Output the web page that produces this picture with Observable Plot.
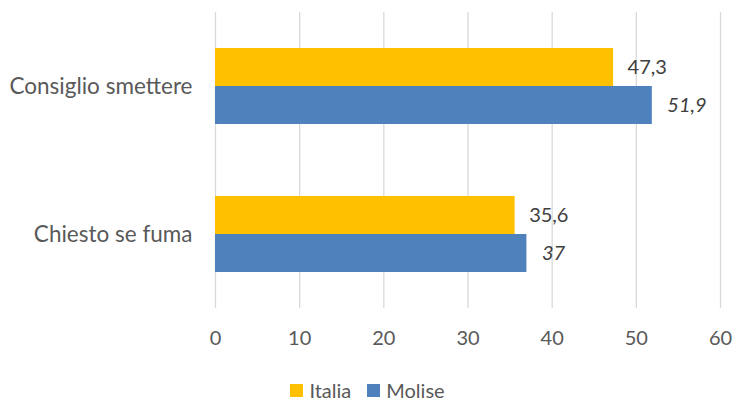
<!DOCTYPE html>
<html><head><meta charset="utf-8">
<script src="https://cdn.jsdelivr.net/npm/d3@7"></script>
<script src="https://cdn.jsdelivr.net/npm/@observablehq/plot@0.6"></script>
<style>
body{margin:0;background:#fff;font-family:Lato,"Open Sans",sans-serif;overflow:hidden;}
#wrap{position:relative;width:735px;height:401px;}
#legend{position:absolute;left:0;top:380px;width:735px;display:flex;justify-content:center;height:21px;line-height:21px;align-items:center;font-size:20px;color:#595959;}
.item{display:flex;align-items:center;margin:0 8px;}
.sw{width:13px;height:13px;margin-right:6px;}
</style></head>
<body><div id="wrap"><div id="chart"></div><div id="legend"></div></div>
<script>
const categories = ["Consiglio smettere", "Chiesto se fuma"];
const series = ["Italia", "Molise"];
const italia = [47.3, 35.6];
const molise = [51.9, 37];
const xTicks = [0, 10, 20, 30, 40, 50, 60];
const colors = ["#FFC000", "#4F81BD"];

const data = [];
categories.forEach((c, i) => {
  data.push({cat: c, s: "Italia", v: italia[i]});
  data.push({cat: c, s: "Molise", v: molise[i]});
});
const fmt = v => String(v).replace(".", ",");

const chart = Plot.plot({
  width: 735, height: 366,
  marginLeft: 215, marginRight: 15, marginTop: 12, marginBottom: 58,
  style: {fontFamily: "Lato, 'Open Sans', sans-serif", fontSize: "20px", color: "#595959", background: "#fff"},
  x: {domain: [0, 60], label: null},
  y: {domain: series, axis: null, paddingInner: 0, paddingOuter: 0.9},
  fy: {domain: categories, padding: 0, label: null, axis: null},
  color: {domain: series, range: colors},
  marks: [
    Plot.gridX(xTicks, {stroke: "#d9d9d9", strokeOpacity: 1, strokeWidth: 1.3}),
    Plot.axisX(xTicks, {tickSize: 0, tickPadding: 22, fontSize: 20, fill: "#595959", tickFormat: d => d, label: null}),
    Plot.axisFy({anchor: "left", tickSize: 0, tickPadding: 23, fontSize: 22.5, fill: "#595959", label: null}),
    Plot.barX(data, {fy: "cat", y: "s", x: "v", fill: "s"}),
    Plot.text(data.filter(d => d.s === "Italia"), {fy: "cat", y: "s", x: "v", text: d => fmt(d.v), textAnchor: "start", dx: 14, fill: "#404040", fontSize: 20}),
    Plot.text(data.filter(d => d.s === "Molise"), {fy: "cat", y: "s", x: "v", text: d => fmt(d.v), textAnchor: "start", dx: 15, fill: "#404040", fontSize: 20, fontStyle: "italic"})
  ]
});
document.getElementById("chart").appendChild(chart);

const lg = document.getElementById("legend");
series.forEach((s, i) => {
  const it = document.createElement("div");
  it.className = "item";
  it.innerHTML = `<span class="sw" style="background:${colors[i]}"></span><span>${s}</span>`;
  lg.appendChild(it);
});
</script></body></html>
